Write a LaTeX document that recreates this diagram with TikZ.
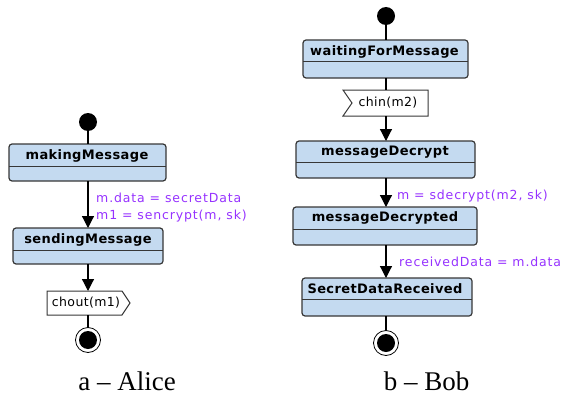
\documentclass[tikz,border=0pt]{standalone}
\usepackage{fontspec}
\setmainfont{Liberation Serif}
\newfontfamily\uifont{DejaVu Sans}
\newfontfamily\uiboldfont[LetterSpace=3]{DejaVu Sans Bold}
\newfontfamily\guardfont[LetterSpace=7]{DejaVu Sans}
\newfontfamily\sigfont[LetterSpace=3]{DejaVu Sans}
\usetikzlibrary{arrows.meta,calc}
\definecolor{boxfill}{RGB}{196,218,240}
\definecolor{boxline}{RGB}{55,55,55}
\definecolor{lblpurple}{RGB}{150,50,255}
\tikzset{
  statebox/.style={draw=boxline,line width=1.2pt,fill=boxfill,rounded corners=3pt},
  divider/.style={draw=boxline,line width=1pt},
  statename/.style={font=\uiboldfont\fontsize{13}{15}\selectfont,inner sep=0pt},
  guard/.style={font=\guardfont\fontsize{12.5}{14}\selectfont,text=lblpurple,anchor=west,inner sep=0pt},
  flow/.style={draw=black,line width=1.2pt,-{Triangle[width=12pt,length=12pt]}},
  plain/.style={draw=black,line width=1.2pt},
  sigbox/.style={draw=boxline,line width=1pt,fill=white},
  sigtext/.style={font=\sigfont\fontsize{12.5}{14}\selectfont,inner sep=0pt},
  caption/.style={font=\fontsize{27}{30}\selectfont,inner sep=0pt,anchor=base,text depth=0pt},
}
\begin{document}
\begin{tikzpicture}[x=1pt,y=-1pt]
\useasboundingbox (0,0) rectangle (570,396);

% ===== Alice =====
\node[circle,fill=black,minimum size=18pt,inner sep=0pt] (ainit) at (88,122) {};
% makingMessage
\path[statebox] (9,144) rectangle (166,181);
\draw[divider] (9,166) -- (166,166);
\node[statename] (amake) at (87,155.5) {makingMessage};
\coordinate (amakeT) at (88,144);
\coordinate (amakeB) at (88,181);
% sendingMessage
\path[statebox] (13,228) rectangle (163,264);
\draw[divider] (13,250) -- (163,250);
\node[statename] (asend) at (88,239.5) {sendingMessage};
\coordinate (asendT) at (88,228);
\coordinate (asendB) at (88,264);
% chout
\path[sigbox] (47,291) -- (122,291) -- (130,303) -- (122,315) -- (47,315) -- cycle;
\node[sigtext] (achout) at (86,303) {chout(m1)};
\coordinate (achoutT) at (88,291);
\coordinate (achoutB) at (88,315);
% final
\node[circle,draw=black,line width=0.8pt,minimum size=25pt,inner sep=0pt] (afinal) at (88,340) {};
\node[circle,fill=black,minimum size=18pt,inner sep=0pt] at (afinal) {};

\draw[plain] (ainit) -- (amakeT);
\draw[flow] (amakeB) -- (asendT);
\draw[flow] (asendB) -- (achoutT);
\draw[plain] (achoutB) -- (afinal);
\node[guard] (ag1) at (96,198) {m.data = secretData};
\node[guard] (ag2) at (96,216) {m1 = sencrypt(m, sk)};

% ===== Bob =====
\node[circle,fill=black,minimum size=18pt,inner sep=0pt] (binit) at (386,16) {};
% waitingForMessage
\path[statebox] (303,40) rectangle (468,78);
\draw[divider] (303,62) -- (468,62);
\node[statename] (bwait) at (384.5,51.5) {waitingForMessage};
\coordinate (bwaitT) at (386,40);
\coordinate (bwaitB) at (386,78);
% chin
\path[sigbox] (343,90) -- (428,90) -- (428,116) -- (343,116) -- (352,103) -- cycle;
\node[sigtext] (bchin) at (388,103) {chin(m2)};
\coordinate (bchinT) at (386,90);
\coordinate (bchinB) at (386,116);
% messageDecrypt
\path[statebox] (296,141) rectangle (475,178);
\draw[divider] (296,162) -- (475,162);
\node[statename] (bdec) at (385,152) {messageDecrypt};
\coordinate (bdecT) at (386,141);
\coordinate (bdecB) at (386,178);
% messageDecrypted
\path[statebox] (293,207) rectangle (477,245);
\draw[divider] (293,229) -- (477,229);
\node[statename] (bdecd) at (385,218) {messageDecrypted};
\coordinate (bdecdT) at (386,207);
\coordinate (bdecdB) at (386,245);
% SecretDataReceived
\path[statebox] (302,278) rectangle (472,316);
\draw[divider] (302,299) -- (472,299);
\node[statename] (brec) at (385,289) {SecretDataReceived};
\coordinate (brecT) at (386,278);
\coordinate (brecB) at (386,316);
% final
\node[circle,draw=black,line width=0.8pt,minimum size=25pt,inner sep=0pt] (bfinal) at (386,343) {};
\node[circle,fill=black,minimum size=18pt,inner sep=0pt] at (bfinal) {};

\draw[plain] (binit) -- (bwaitT);
\draw[plain] (bwaitB) -- (bchinT);
\draw[flow] (bchinB) -- (bdecT);
\draw[flow] (bdecB) -- (bdecdT);
\draw[flow] (bdecdB) -- (brecT);
\draw[plain] (brecB) -- (bfinal);
\node[guard] (bg1) at (397,196) {m = sdecrypt(m2, sk)};
\node[guard] (bg2) at (399,262) {receivedData = m.data};

% captions
\node[caption] (capa) at (127,390) {a -- Alice};
\node[caption] (capb) at (426.5,390) {b -- Bob};
\end{tikzpicture}
\end{document}
